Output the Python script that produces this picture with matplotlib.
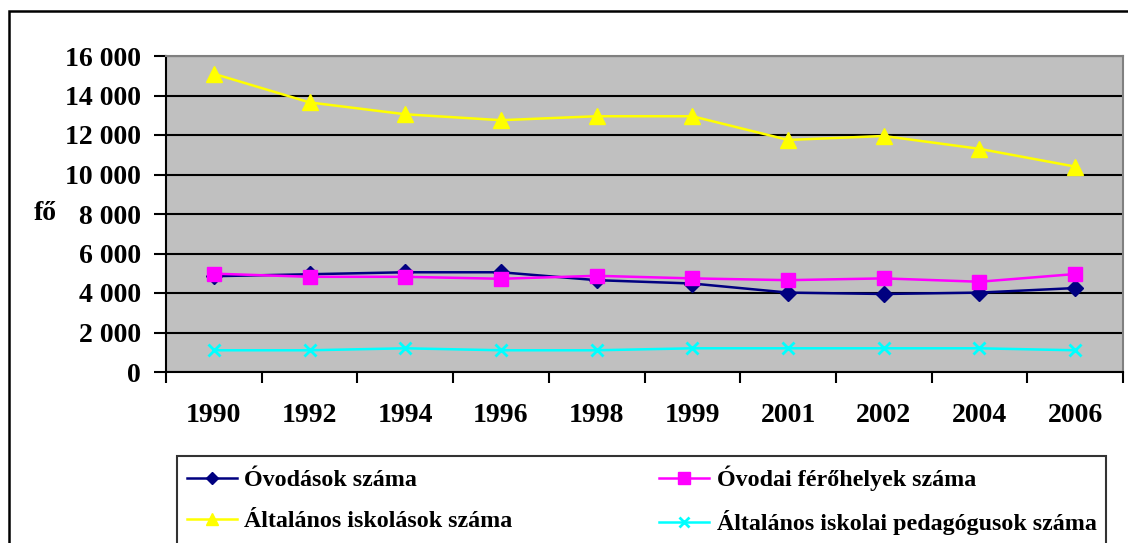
import matplotlib
matplotlib.use("Agg")
import matplotlib.pyplot as plt
import matplotlib.ticker as mticker
import matplotlib.transforms as mtrans
from matplotlib.patches import Rectangle

years = ["1990", "1992", "1994", "1996", "1998", "1999", "2001", "2002", "2004", "2006"]
ovodasok = [4850, 4950, 5050, 5050, 4650, 4480, 4020, 3950, 4020, 4250]
ovodai_ferohely = [4980, 4820, 4820, 4720, 4870, 4740, 4650, 4740, 4570, 4960]
altalanos_iskolasok = [15100, 13650, 13050, 12750, 12950, 12950, 11750, 11950, 11300, 10400]
pedagogusok = [1100, 1100, 1200, 1100, 1100, 1200, 1200, 1200, 1200, 1100]

labels = ["Óvodások száma", "Óvodai férőhelyek száma",
          "Általános iskolások száma", "Általános iskolai pedagógusok száma"]

plt.rcParams['font.family'] = ['Liberation Serif', 'DejaVu Serif']
plt.rcParams['font.weight'] = 'bold'

W, H = 1128, 543
fig = plt.figure(figsize=(W / 100, H / 100), dpi=100)

# outer frame (cropped at right and bottom)
fig.patches.append(Rectangle((9 / W, -0.1), 1.2, 1 - 11 / H + 0.1, transform=fig.transFigure,
                             fill=False, edgecolor='black', linewidth=1.8, clip_on=False))

ax = fig.add_axes([166 / W, 1 - 372 / H, (1123 - 166) / W, (372 - 56) / H])
ax.set_facecolor('#C0C0C0')

x = list(range(len(years)))
l1, = ax.plot(x, ovodasok, color='#000080', marker='D', markersize=8, linewidth=1.8, zorder=4)
l2, = ax.plot(x, ovodai_ferohely, color='#FF00FF', marker='s', markersize=10, linewidth=1.8, zorder=4)
l3, = ax.plot(x, altalanos_iskolasok, color='#FFFF00', marker='^', markersize=11, linewidth=1.8, zorder=4)
l4, = ax.plot(x, pedagogusok, color='#00FFFF', marker='x', markersize=9, markeredgewidth=2,
              linewidth=1.8, zorder=4)

ax.set_xlim(-0.5, len(years) - 0.5)
ax.set_ylim(0, 16000)
ax.yaxis.set_major_locator(mticker.MultipleLocator(2000))
ax.yaxis.set_major_formatter(mticker.FuncFormatter(lambda v, p: f"{int(v):,}".replace(",", " ")))
ax.grid(axis='y', color='black', linewidth=1.5, zorder=1)
ax.set_axisbelow(True)

ax.set_xticks([i - 0.5 for i in range(len(years) + 1)])
ax.set_xticklabels([])
ax.set_xticks(x, minor=True)
ax.set_xticklabels(years, minor=True)
ax.tick_params(axis='x', which='major', direction='out', length=8, width=1.5, color='black')
ax.tick_params(axis='x', which='minor', length=0, pad=22, labelsize=20)
ax.tick_params(axis='y', direction='out', length=9, width=1.5, pad=9, labelsize=20)

for s in ['left', 'bottom']:
    ax.spines[s].set_color('black')
    ax.spines[s].set_linewidth(1.5)
for s in ['top', 'right']:
    ax.spines[s].set_color('#808080')
    ax.spines[s].set_linewidth(1.5)

for lab in ax.get_xticklabels(minor=True) + ax.get_yticklabels():
    lab.set_fontweight('bold')

tr = mtrans.blended_transform_factory(fig.transFigure, ax.transData)
ax.text(34 / W, 8000, "fő", transform=tr, fontsize=20, fontweight='bold', va='center', ha='left')

handles = [l1, l3, l2, l4]
hl = [labels[0], labels[2], labels[1], labels[3]]
x0, x1 = 177 / W, 1106 / W
y0, y1 = 1 - 541 / H, 1 - 456 / H
leg = fig.legend(handles, hl, loc='upper left', bbox_to_anchor=(x0, y0, x1 - x0, y1 - y0),
                 mode='expand', ncol=2, frameon=True, fancybox=False,
                 edgecolor='black', handlelength=2.1, handletextpad=0.3, labelspacing=0.8,
                 borderpad=0.4, borderaxespad=0, markerscale=0.8,
                 prop={'weight': 'bold', 'size': 17.3})
leg.get_frame().set_linewidth(1.5)

fig.savefig("out.png", dpi=100)
